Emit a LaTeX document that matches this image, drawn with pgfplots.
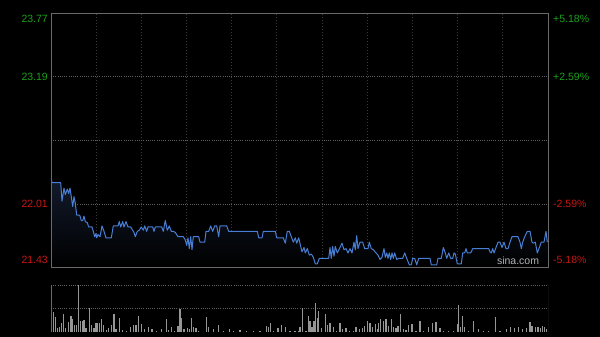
\documentclass[border=0pt]{standalone}
\usepackage{pgfplots}
\pgfplotsset{compat=1.18}
\usepackage{pgfplotstable}
\usepackage{fontspec}
\setmainfont{Liberation Sans}
\definecolor{upgreen}{RGB}{28,160,28}
\definecolor{downred}{RGB}{200,22,22}
\definecolor{lineblue}{RGB}{72,126,212}
\definecolor{framegray}{RGB}{105,105,105}
\definecolor{vgrid}{RGB}{58,58,58}
\definecolor{hgrid}{RGB}{95,95,95}
\definecolor{volgray}{RGB}{150,150,150}
\definecolor{fillnavy}{RGB}{18,26,44}

\pgfplotstableread{
x y
51.3 22.25
52.0 22.21
60.7 22.21
62.0 22.04
64.0 22.16
65.3 22.10
67.3 22.15
68.7 22.11
70.0 22.16
71.3 22.08
72.7 21.99
74.0 22.08
75.3 22.02
76.7 21.91
79.7 21.91
81.3 21.86
82.7 21.86
84.0 21.90
85.3 21.85
87.3 21.84
88.7 21.80
92.0 21.80
93.3 21.76
94.7 21.71
96.0 21.74
96.7 21.70
98.0 21.73
100.0 21.71
102.0 21.81
104.0 21.76
106.0 21.70
111.3 21.70
113.3 21.81
118.0 21.81
119.3 21.85
120.7 21.80
122.7 21.85
124.0 21.80
126.0 21.85
128.0 21.80
130.7 21.80
132.7 21.77
134.0 21.75
135.3 21.71
137.3 21.76
139.3 21.77
141.3 21.80
143.3 21.77
144.7 21.81
146.7 21.76
148.0 21.80
152.7 21.80
154.0 21.76
155.3 21.80
161.7 21.80
163.3 21.76
165.3 21.86
167.3 21.77
169.3 21.81
171.3 21.76
173.3 21.76
175.3 21.75
178.0 21.71
183.3 21.71
185.3 21.68
186.7 21.63
188.0 21.70
189.3 21.60
190.7 21.71
192.0 21.59
193.3 21.71
198.7 21.71
200.0 21.66
204.7 21.66
206.0 21.76
208.7 21.76
210.7 21.81
212.7 21.76
214.7 21.81
216.7 21.81
218.7 21.71
220.0 21.81
226.7 21.81
228.7 21.76
257.3 21.76
258.7 21.70
262.0 21.70
263.3 21.76
275.3 21.76
276.7 21.70
283.3 21.70
285.3 21.65
287.3 21.76
289.3 21.76
291.3 21.71
293.3 21.66
295.3 21.70
296.7 21.65
298.7 21.70
300.7 21.62
302.0 21.57
304.0 21.61
305.3 21.56
307.3 21.60
309.3 21.54
311.3 21.55
313.3 21.52
315.3 21.46
317.3 21.46
319.3 21.51
328.7 21.51
330.0 21.61
331.3 21.51
332.7 21.62
334.0 21.53
335.3 21.62
337.3 21.56
340.0 21.61
342.0 21.65
344.0 21.59
346.0 21.60
348.0 21.56
350.0 21.60
352.0 21.56
354.0 21.66
355.3 21.59
356.7 21.72
358.0 21.60
360.0 21.66
362.7 21.66
364.7 21.60
368.0 21.60
369.3 21.66
371.3 21.60
373.3 21.59
376.0 21.56
378.0 21.54
380.0 21.50
382.0 21.52
384.0 21.60
385.3 21.52
386.7 21.56
388.0 21.51
389.3 21.56
390.7 21.50
392.0 21.56
393.3 21.51
394.7 21.56
396.7 21.50
398.7 21.51
402.7 21.51
404.7 21.56
406.7 21.51
409.3 21.45
411.3 21.45
412.7 21.51
414.7 21.51
416.7 21.45
418.7 21.51
430.0 21.51
431.3 21.45
436.7 21.45
438.0 21.51
441.3 21.51
443.3 21.61
445.3 21.56
446.7 21.51
448.7 21.56
450.7 21.51
452.7 21.51
454.0 21.56
455.3 21.55
457.3 21.46
461.3 21.46
462.7 21.56
464.7 21.56
466.0 21.60
467.3 21.56
470.7 21.56
472.7 21.60
488.7 21.60
490.0 21.57
491.3 21.56
492.7 21.60
494.0 21.56
496.0 21.61
498.0 21.66
500.0 21.66
502.0 21.61
504.0 21.66
506.0 21.60
508.0 21.60
510.0 21.66
512.0 21.71
518.0 21.71
520.0 21.66
521.3 21.60
522.7 21.66
524.7 21.71
527.3 21.76
530.0 21.76
532.0 21.66
533.3 21.65
535.3 21.66
537.3 21.56
539.3 21.61
541.3 21.66
544.0 21.66
546.0 21.76
547.3 21.66
}\pricetable

\pgfplotstableread{
x v
51.7 5.3
53.3 20.3
55.3 15.3
57.3 3.7
59.3 5.3
61.3 8.7
63.3 17.7
65.3 3.7
68.7 10.3
71.0 16
72.7 12.7
74.7 7
76.7 7
78.3 47
80.7 11.3
82.7 11.3
84.0 12
86.0 3.7
89.3 23.7
91.3 7
94.0 3.7
96.0 9.3
97.3 9.3
99.3 9.3
101.3 12.7
103.3 7
106.7 2
108.7 3.7
111.3 7
114.0 17.7
116.0 3
119.3 14.3
122.7 2
126.7 1.3
130.7 4.7
133.3 7
136.0 7
138.7 16
141.3 8
144.7 3
148.7 4.7
152.0 3
156.7 1.3
161.3 3
166.7 12.7
168.7 2
171.3 4.7
174.7 1.3
178.0 6
180.0 22.7
181.3 13.7
184.0 3
187.3 3.7
189.3 3
191.3 13.7
193.3 4.7
196.0 3.7
198.7 1.3
206.7 15.3
208.7 4.7
213.3 3
218.7 7
223.3 1.3
229.3 3
233.3 1
240.0 2
246.7 1.3
253.3 1
260.0 1.3
266.7 6.3
268.7 5.3
270.7 9.3
273.3 1.3
278.0 3.7
281.3 7
285.3 4.7
290.0 1.3
295.0 1.3
298.3 1.3
300.0 5.3
302.7 23.7
306.0 1.3
308.3 16.3
310.0 11.3
312.0 4.7
314.0 11.3
315.3 28.7
317.3 13.7
318.7 21.3
321.3 3.7
325.3 17.7
327.3 7
330.0 9.3
333.3 4.7
336.7 1.3
340.0 9.3
342.7 3
346.0 3.7
349.3 1.3
353.3 1.3
356.0 5.3
359.3 3
362.7 3.7
364.7 6
367.3 11
370.0 8.7
372.7 4.7
375.3 7.7
377.3 3
378.7 8.7
380.7 12.7
383.3 11
386.0 12.7
388.7 6
391.3 12.7
393.3 4.7
396.0 3.7
398.0 6
400.7 17.7
403.3 3
406.0 2
408.7 7
412.0 7.7
416.0 1.3
420.0 11.3
423.3 1.3
428.3 4.7
432.7 8.7
436.0 10
440.0 3.7
443.3 1.3
448.3 1.3
453.3 1.3
457.3 7.7
458.7 26.7
460.7 5.3
462.7 16
464.7 5.3
468.7 1.3
473.3 11.3
478.7 3
483.3 1.3
488.7 1.3
495.3 15.3
500.0 1.3
506.7 3
510.7 4.7
514.7 3.7
518.7 4.7
522.7 3
526.7 3.7
530.0 10.3
532.0 6
535.3 5.3
538.0 5.3
540.7 3.7
542.7 6
544.7 4.7
546.7 3
}\voltable

\begin{document}
\begin{tikzpicture}
\fill[black] (0,0) rectangle (600bp,337bp);

% ---------- price panel ----------
\begin{axis}[
  at={(51bp,70bp)}, anchor=south west,
  scale only axis, width=497bp, height=253bp,
  xmin=51, xmax=548, ymin=21.43, ymax=23.77,
  clip=false,
  axis line style={draw=none},
  xtick={96.18,141.36,186.55,231.73,276.91,322.09,367.27,412.45,457.64,502.82},
  ytick={22.01,23.19},
  extra y ticks={22.60},
  extra y tick style={grid style={hgrid, line width=0.8bp, dash pattern=on 2bp off 1bp on 0.6bp off 1bp}},
  xticklabels={}, yticklabels={}, extra y tick labels={},
  tick style={draw=none},
  xmajorgrids, ymajorgrids,
  x grid style={vgrid, line width=1bp, dash pattern=on 1.5bp off 1.5bp},
  y grid style={hgrid, line width=0.8bp, dash pattern=on 1bp off 1.2bp},
]
\begin{scope}
\clip (rel axis cs:0,0) rectangle (rel axis cs:1,1);
\addplot[draw=none, shade, top color=fillnavy, bottom color=black] table[x=x,y=y]{\pricetable} |- (axis cs:51.3,21.43) -- cycle;
\end{scope}
\addplot[lineblue, line width=1bp, line join=round] table[x=x,y=y]{\pricetable};
\draw[framegray, line width=1bp] (rel axis cs:0,0) rectangle (rel axis cs:1,1);
% left labels
\node[anchor=east, text=upgreen, font=\fontsize{10.5bp}{12bp}\selectfont, inner sep=0pt] at (axis cs:51,23.77) [xshift=-3bp, yshift=-5bp] {23.77};
\node[anchor=east, text=upgreen, font=\fontsize{10.5bp}{12bp}\selectfont, inner sep=0pt] at (axis cs:51,23.19) [xshift=-3bp] {23.19};
\node[anchor=east, text=downred, font=\fontsize{10.5bp}{12bp}\selectfont, inner sep=0pt] at (axis cs:51,22.01) [xshift=-3bp] {22.01};
\node[anchor=east, text=downred, font=\fontsize{10.5bp}{12bp}\selectfont, inner sep=0pt] at (axis cs:51,21.43) [xshift=-3bp, yshift=7bp] {21.43};
% right labels
\node[anchor=west, text=upgreen, font=\fontsize{10.5bp}{12bp}\selectfont, inner sep=0pt] at (axis cs:548,23.77) [xshift=5bp, yshift=-5bp] {+5.18\%};
\node[anchor=west, text=upgreen, font=\fontsize{10.5bp}{12bp}\selectfont, inner sep=0pt] at (axis cs:548,23.19) [xshift=5bp] {+2.59\%};
\node[anchor=west, text=downred, font=\fontsize{10.5bp}{12bp}\selectfont, inner sep=0pt] at (axis cs:548,22.01) [xshift=5bp] {-2.59\%};
\node[anchor=west, text=downred, font=\fontsize{10.5bp}{12bp}\selectfont, inner sep=0pt] at (axis cs:548,21.43) [xshift=5bp, yshift=7bp] {-5.18\%};
% watermark
\node[text=white!70!black, font=\fontsize{10.5bp}{12bp}\selectfont, inner sep=0pt] at (axis cs:518,21.43) [yshift=6bp] {sina.com};
\end{axis}

% ---------- volume panel ----------
\begin{axis}[
  at={(51bp,5bp)}, anchor=south west,
  scale only axis, width=497bp, height=47bp,
  xmin=51, xmax=548, ymin=0, ymax=47,
  axis line style={draw=none},
  xtick=\empty, ytick={23.5,47},
  yticklabels={}, tick style={draw=none},
  ymajorgrids,
  y grid style={hgrid, line width=0.8bp, dash pattern=on 1bp off 1.2bp},
]
\addplot[ycomb, volgray, line width=1.1bp, mark=none] table[x=x,y=v]{\voltable};
\draw[framegray, line width=1bp] (rel axis cs:0,1) -- (rel axis cs:0,0) -- (rel axis cs:1,0) -- (rel axis cs:1,1);
\end{axis}
\end{tikzpicture}
\end{document}
